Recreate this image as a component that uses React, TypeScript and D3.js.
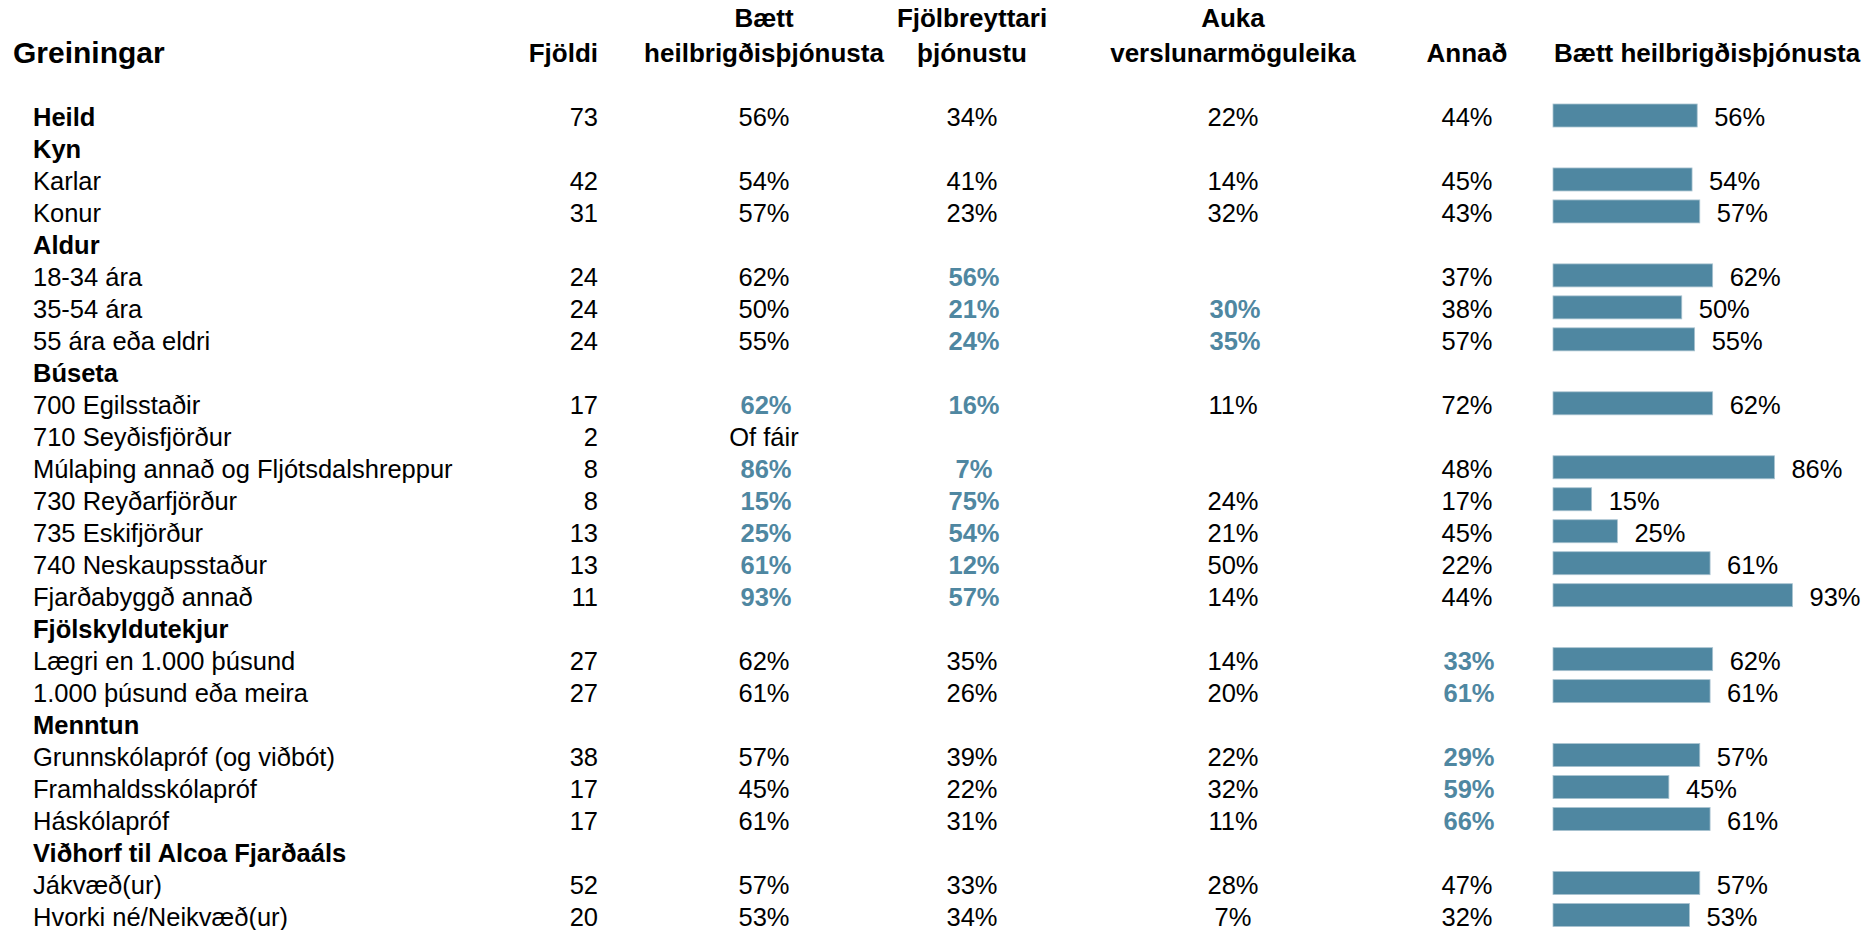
import React from "react";
import * as d3 from "d3";

const rowLabels = [
  "Heild", "Kyn", "Karlar", "Konur", "Aldur", "18-34 ára", "35-54 ára", "55 ára eða eldri",
  "Búseta", "700 Egilsstaðir", "710 Seyðisfjörður", "Múlaþing annað og Fljótsdalshreppur",
  "730 Reyðarfjörður", "735 Eskifjörður", "740 Neskaupsstaður", "Fjarðabyggð annað",
  "Fjölskyldutekjur", "Lægri en 1.000 þúsund", "1.000 þúsund eða meira", "Menntun",
  "Grunnskólapróf (og viðbót)", "Framhaldsskólapróf", "Háskólapróf",
  "Viðhorf til Alcoa Fjarðaáls", "Jákvæð(ur)", "Hvorki né/Neikvæð(ur)",
];
const boldRows = [1, 1, 0, 0, 1, 0, 0, 0, 1, 0, 0, 0, 0, 0, 0, 0, 1, 0, 0, 1, 0, 0, 0, 1, 0, 0];

const fjoldi = [73, null, 42, 31, null, 24, 24, 24, null, 17, 2, 8, 8, 13, 13, 11, null, 27, 27, null, 38, 17, 17, null, 52, 20];
const baett = [0.56, null, 0.54, 0.57, null, 0.62, 0.50, 0.55, null, 0.62, null, 0.86, 0.15, 0.25, 0.61, 0.93, null, 0.62, 0.61, null, 0.57, 0.45, 0.61, null, 0.57, 0.53];
const fjolbreyttari = [0.34, null, 0.41, 0.23, null, 0.56, 0.21, 0.24, null, 0.16, null, 0.07, 0.75, 0.54, 0.12, 0.57, null, 0.35, 0.26, null, 0.39, 0.22, 0.31, null, 0.33, 0.34];
const auka = [0.22, null, 0.14, 0.32, null, null, 0.30, 0.35, null, 0.11, null, null, 0.24, 0.21, 0.50, 0.14, null, 0.14, 0.20, null, 0.22, 0.32, 0.11, null, 0.28, 0.07];
const annad = [0.44, null, 0.45, 0.43, null, 0.37, 0.38, 0.57, null, 0.72, null, 0.48, 0.17, 0.45, 0.22, 0.44, null, 0.33, 0.61, null, 0.29, 0.59, 0.66, null, 0.47, 0.32];

const baettSig = [0, 0, 0, 0, 0, 0, 0, 0, 0, 1, 0, 1, 1, 1, 1, 1, 0, 0, 0, 0, 0, 0, 0, 0, 0, 0];
const fjolSig = [0, 0, 0, 0, 0, 1, 1, 1, 0, 1, 0, 1, 1, 1, 1, 1, 0, 0, 0, 0, 0, 0, 0, 0, 0, 0];
const aukaSig = [0, 0, 0, 0, 0, 0, 1, 1, 0, 0, 0, 0, 0, 0, 0, 0, 0, 0, 0, 0, 0, 0, 0, 0, 0, 0];
const annadSig = [0, 0, 0, 0, 0, 0, 0, 0, 0, 0, 0, 0, 0, 0, 0, 0, 0, 1, 1, 0, 1, 1, 1, 0, 0, 0];

const tooFewRow = 10;
const tooFewText = "Of fáir";

const titleText = "Greiningar";
const headerFjoldi = "Fjöldi";
const headerCols = [
  ["Bætt", "heilbrigðisþjónusta"],
  ["Fjölbreyttari", "þjónustu"],
  ["Auka", "verslunarmöguleika"],
  ["", "Annað"],
];
const barHeader = "Bætt heilbrigðisþjónusta";

const FONT = "'Liberation Sans', Arial, Helvetica, sans-serif";
const BLUE = "#4F87A1";

export default function App() {
  const W = 1865, H = 930;
  const y = d3.scaleLinear().domain([0, rowLabels.length - 1]).range([126, 925.5]);
  const x = d3.scaleLinear().domain([0, 1]).range([1553, 1810.5]);
  const pct = d3.format(".0%");
  const colCenters = [764, 972, 1233, 1467];
  const cols = [baett, fjolbreyttari, auka, annad];
  const sigs = [baettSig, fjolSig, aukaSig, annadSig];
  const FS = 25.5;
  const HFS = 26;

  return (
    <>
      <style>{`body{margin:0}`}</style>
      <svg width={W} height={H} style={{ display: "block", background: "#fff" }} fontFamily={FONT}>
        <text x={13} y={63} fontSize={30} fontWeight="bold" fill="#000">{titleText}</text>
        <text x={598} y={62} fontSize={HFS} fontWeight="bold" textAnchor="end" fill="#000">{headerFjoldi}</text>
        {headerCols.map((h, i) => (
          <g key={i}>
            {h[0] && <text x={colCenters[i]} y={27} fontSize={HFS} fontWeight="bold" textAnchor="middle">{h[0]}</text>}
            <text x={colCenters[i]} y={62} fontSize={HFS} fontWeight="bold" textAnchor="middle">{h[1]}</text>
          </g>
        ))}
        <text x={1554} y={62} fontSize={HFS} fontWeight="bold">{barHeader}</text>

        {rowLabels.map((lab, i) => (
          <g key={"r" + i}>
            <text x={33} y={y(i)} fontSize={FS} fontWeight={boldRows[i] ? "bold" : "normal"} fill="#000">{lab}</text>
            {fjoldi[i] != null && (
              <text x={598} y={y(i)} fontSize={FS} textAnchor="end" fill="#000">{fjoldi[i]}</text>
            )}
            {i === tooFewRow && (
              <text x={colCenters[0]} y={y(i)} fontSize={FS} textAnchor="middle" fill="#000">{tooFewText}</text>
            )}
            {cols.map((c, j) => c[i] != null ? (
              <text key={j} x={colCenters[j] + (sigs[j][i] ? 2 : 0)} y={y(i)} fontSize={FS} textAnchor="middle"
                fontWeight={sigs[j][i] ? "bold" : "normal"} fill={sigs[j][i] ? BLUE : "#000"}>{pct(c[i] as number)}</text>
            ) : null)}
            {baett[i] != null && (
              <>
                <rect x={x(0)} y={y(i) - 22} width={x(baett[i] as number) - x(0)} height={23} fill={BLUE}
                  stroke="#a9c3d0" strokeWidth={0.8} />
                <text x={x(baett[i] as number) + 17} y={y(i)} fontSize={FS} fill="#000">{pct(baett[i] as number)}</text>
              </>
            )}
          </g>
        ))}
      </svg>
    </>
  );
}
